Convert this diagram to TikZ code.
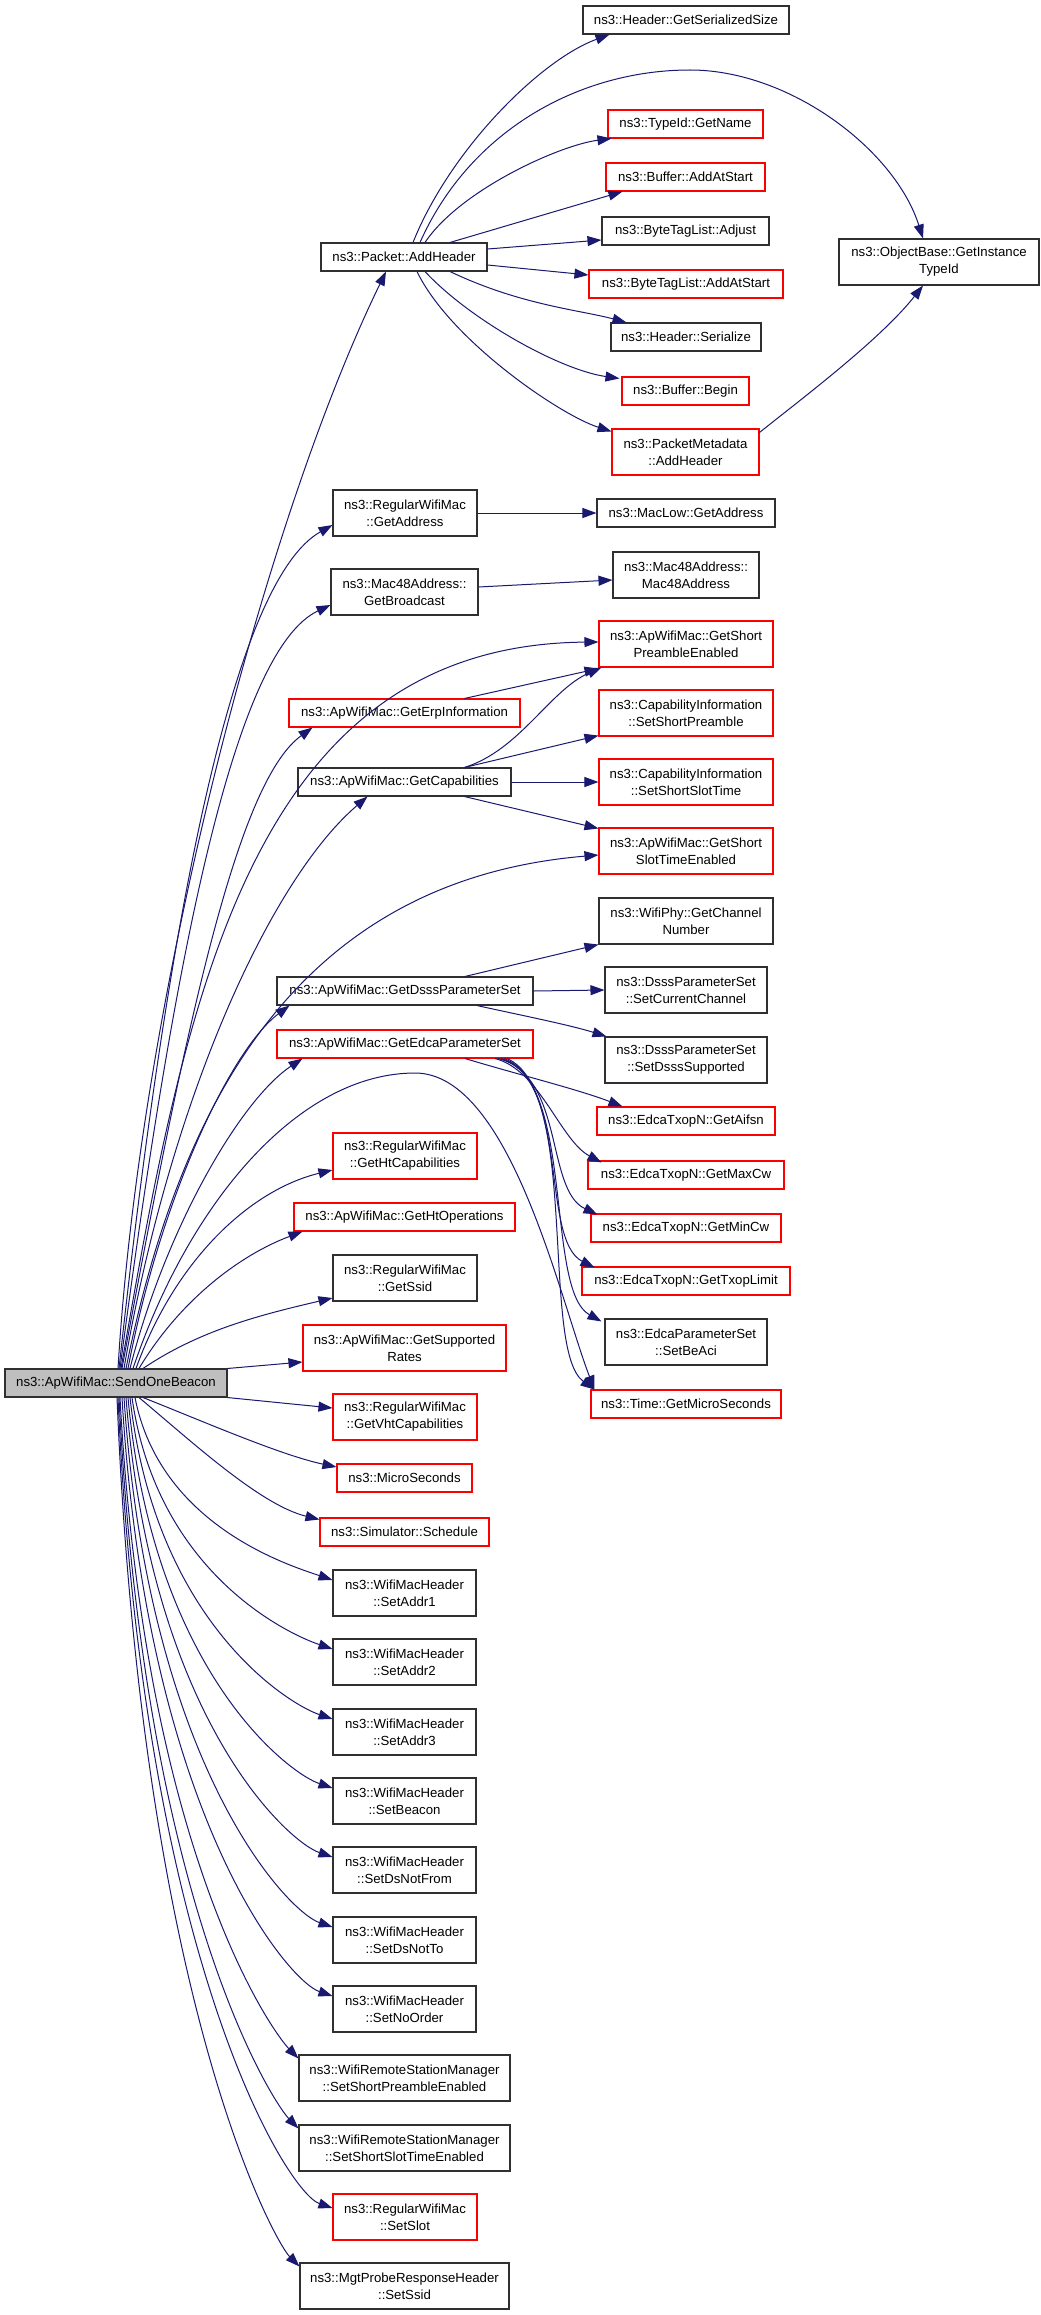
\documentclass[tikz,border=0pt]{standalone}
\usepackage{fontspec}
\setmainfont{Liberation Sans}
\usetikzlibrary{arrows.meta,calc}
\definecolor{mblue}{HTML}{191970}
\definecolor{nred}{HTML}{FF0000}
\definecolor{nblk}{HTML}{303030}
\definecolor{sgray}{HTML}{BFBFBF}
\newcommand\nfont{\fontsize{9.9pt}{12.75pt}\selectfont}
\tikzset{
  nd/.style={draw=nblk, line width=0.8pt, fill=white, inner sep=0pt, align=center, font=\nfont},
  rd/.style={nd, draw=nred},
  gy/.style={nd, fill=sgray},
  h1/.style={minimum height=28*0.75pt},
  h2/.style={minimum height=46*0.75pt},
  bw/.style={minimum width=#1*0.75pt},
  edge/.style={draw=mblue, line width=0.75pt, -{Triangle[length=10.5pt,width=7.5pt]}},
}
\begin{document}
\begin{tikzpicture}[x=0.75pt,y=-0.75pt]
\useasboundingbox (0,0) rectangle (1040,2315);
\fill[white] (0,0) rectangle (1040,2315);
% nodes
\node[nd,bw=206,h1] (gss) at (686,20) {ns3::Header::GetSerializedSize};
\node[nd,bw=200,h2] (oi) at (939,262) {ns3::ObjectBase::GetInstance\\TypeId};
\node[rd,bw=155,h1] (tn) at (685.5,124) {ns3::TypeId::GetName};
\node[rd,bw=159,h1] (baas) at (685.5,177) {ns3::Buffer::AddAtStart};
\node[nd,bw=167,h1] (btla) at (685.5,231) {ns3::ByteTagList::Adjust};
\node[nd,bw=166,h1] (ah) at (404,257) {ns3::Packet::AddHeader};
\node[rd,bw=194,h1] (btlas) at (686,284) {ns3::ByteTagList::AddAtStart};
\node[nd,bw=150,h1] (hs) at (686,337) {ns3::Header::Serialize};
\node[rd,bw=127,h1] (bb) at (685.5,391) {ns3::Buffer::Begin};
\node[rd,bw=147,h2] (pm) at (685.5,452) {ns3::PacketMetadata\\::AddHeader};
\node[nd,bw=144,h2] (ga) at (405,513) {ns3::RegularWifiMac\\::GetAddress};
\node[nd,bw=178,h1] (mlga) at (686,513) {ns3::MacLow::GetAddress};
\node[nd,bw=146,h2] (mac) at (686,575) {ns3::Mac48Address::\\Mac48Address};
\node[nd,bw=147,h2] (gb) at (404.5,592) {ns3::Mac48Address::\\GetBroadcast};
\node[rd,bw=174,h2] (gspe) at (686,644) {ns3::ApWifiMac::GetShort\\PreambleEnabled};
\node[rd,bw=231,h1] (erp) at (404.5,713) {ns3::ApWifiMac::GetErpInformation};
\node[rd,bw=174,h2] (ssp) at (686,713) {ns3::CapabilityInformation\\::SetShortPreamble};
\node[nd,bw=213,h1] (cap) at (404.5,782) {ns3::ApWifiMac::GetCapabilities};
\node[rd,bw=174,h2] (ssst) at (686,782) {ns3::CapabilityInformation\\::SetShortSlotTime};
\node[rd,bw=174,h2] (gsst) at (686,851) {ns3::ApWifiMac::GetShort\\SlotTimeEnabled};
\node[nd,bw=174,h2] (gcn) at (686,921) {ns3::WifiPhy::GetChannel\\Number};
\node[nd,bw=256,h1] (dsss) at (405,991) {ns3::ApWifiMac::GetDsssParameterSet};
\node[nd,bw=162,h2] (scc) at (686,990) {ns3::DsssParameterSet\\::SetCurrentChannel};
\node[rd,bw=256,h1] (edca) at (405,1044) {ns3::ApWifiMac::GetEdcaParameterSet};
\node[nd,bw=162,h2] (sds) at (686,1060) {ns3::DsssParameterSet\\::SetDsssSupported};
\node[rd,bw=178,h1] (aifsn) at (686,1121) {ns3::EdcaTxopN::GetAifsn};
\node[rd,bw=144,h2] (htc) at (405,1156) {ns3::RegularWifiMac\\::GetHtCapabilities};
\node[rd,bw=196,h1] (maxcw) at (686,1175) {ns3::EdcaTxopN::GetMaxCw};
\node[rd,bw=221,h1] (hto) at (404.5,1217) {ns3::ApWifiMac::GetHtOperations};
\node[rd,bw=190,h1] (mincw) at (686,1228) {ns3::EdcaTxopN::GetMinCw};
\node[nd,bw=144,h2] (ssid) at (405,1278) {ns3::RegularWifiMac\\::GetSsid};
\node[rd,bw=208,h1] (txop) at (686,1281) {ns3::EdcaTxopN::GetTxopLimit};
\node[nd,bw=162,h2] (beaci) at (686,1342) {ns3::EdcaParameterSet\\::SetBeAci};
\node[rd,bw=203,h2] (rates) at (404.5,1348) {ns3::ApWifiMac::GetSupported\\Rates};
\node[gy,bw=222,h1] (s) at (116,1383) {ns3::ApWifiMac::SendOneBeacon};
\node[rd,bw=190,h1] (tms) at (686,1404) {ns3::Time::GetMicroSeconds};
\node[rd,bw=144,h2] (vht) at (405,1417) {ns3::RegularWifiMac\\::GetVhtCapabilities};
\node[rd,bw=135,h1] (ms) at (404.5,1478) {ns3::MicroSeconds};
\node[rd,bw=169,h1] (sch) at (404.5,1532) {ns3::Simulator::Schedule};
\node[nd,bw=143,h2] (aa) at (404.5,1593) {ns3::WifiMacHeader\\::SetAddr1};
\node[nd,bw=143,h2] (ab) at (404.5,1662) {ns3::WifiMacHeader\\::SetAddr2};
\node[nd,bw=143,h2] (ac) at (404.5,1732) {ns3::WifiMacHeader\\::SetAddr3};
\node[nd,bw=143,h2] (bcn) at (404.5,1801) {ns3::WifiMacHeader\\::SetBeacon};
\node[nd,bw=143,h2] (dnf) at (404.5,1870) {ns3::WifiMacHeader\\::SetDsNotFrom};
\node[nd,bw=143,h2] (dnt) at (404.5,1940) {ns3::WifiMacHeader\\::SetDsNotTo};
\node[nd,bw=143,h2] (nor) at (404.5,2009) {ns3::WifiMacHeader\\::SetNoOrder};
\node[nd,bw=211,h2] (wspe) at (404.5,2078) {ns3::WifiRemoteStationManager\\::SetShortPreambleEnabled};
\node[nd,bw=211,h2] (wsst) at (404.5,2148) {ns3::WifiRemoteStationManager\\::SetShortSlotTimeEnabled};
\node[rd,bw=144,h2] (slot) at (405,2217) {ns3::RegularWifiMac\\::SetSlot};
\node[nd,bw=209,h2] (probe) at (404.5,2286) {ns3::MgtProbeResponseHeader\\::SetSsid};
% edges from Packet::AddHeader
\draw[edge] ($(ah.north)+(9,0)$) .. controls (450,150) and (540,60) .. ($(gss.south west)+(27,0)$);
\draw[edge] ($(ah.north)+(16,0)$) .. controls (470,130) and (580,70) .. (690,70) coordinate (oipk) .. controls (790,70) and (895,150) .. ($(oi.north)+(-16,0)$);
\draw[edge] ($(ah.north)+(21,0)$) .. controls (460,190) and (560,145) .. ($(tn.south west)+(4,0)$);
\draw[edge] ($(ah.north)+(46,0)$) -- ($(baas.south west)+(17,0)$);
\draw[edge] ($(ah.east)+(0,-8)$) -- ($(btla.west)+(0,9)$);
\draw[edge] ($(ah.east)+(0,8)$) -- ($(btlas.west)+(0,-9)$);
\draw[edge] ($(ah.south)+(46,0)$) .. controls (520,305) and (580,310) .. ($(hs.north west)+(16,0)$);
\draw[edge] ($(ah.south)+(21,0)$) .. controls (470,320) and (560,370) .. ($(bb.north west)+(-2,2)$);
\draw[edge] ($(ah.south)+(13,0)$) .. controls (450,340) and (560,415) .. ($(pm.north west)+(0,3)$);
\draw[edge] ($(pm.north east)+(0,4)$) .. controls (800,400) and (880,340) .. ($(oi.south)+(-16,0)$);
% second level
\draw[edge] (ga.east) -- (mlga.west);
\draw[edge] ($(gb.east)+(0,-5)$) -- ($(mac.west)+(0,5)$);
\draw[edge] ($(erp.north)+(60,0)$) -- ($(gspe.south west)+(0,1)$);
\draw[edge] ($(cap.north)+(60,0)$) .. controls (520,750) and (550,690) .. ($(gspe.south west)+(3,0)$);
\draw[edge] ($(cap.north)+(60,0)$) -- ($(ssp.south west)+(0,-1)$);
\draw[edge] (cap.east) -- (ssst.west);
\draw[edge] ($(cap.south)+(60,0)$) -- ($(gsst.north west)+(0,1)$);
\draw[edge] ($(dsss.north)+(60,0)$) -- (gcn.south west);
\draw[edge] (dsss.east) -- (scc.west);
\draw[edge] ($(dsss.south)+(72,0)$) .. controls (520,1015) and (570,1025) .. ($(sds.north west)+(2,0)$);
\draw[edge] ($(edca.south)+(60,0)$) .. controls (520,1075) and (580,1090) .. ($(aifsn.north west)+(26,0)$);
\draw[edge] ($(edca.south)+(90,0)$) .. controls (540,1070) and (560,1140) .. ($(maxcw.north west)+(14,2)$);
\draw[edge] ($(edca.south)+(93,0)$) .. controls (565,1075) and (545,1190) .. ($(mincw.north west)+(7,1)$);
\draw[edge] ($(edca.south)+(96,0)$) .. controls (570,1080) and (540,1240) .. ($(txop.north west)+(13,1)$);
\draw[edge] ($(edca.south)+(99,0)$) .. controls (575,1085) and (545,1290) .. ($(beaci.north west)+(-3,3)$);
\draw[edge] ($(edca.south)+(102,0)$) .. controls (580,1090) and (540,1350) .. ($(tms.north west)+(4,0)$);
% edges from SendOneBeacon, upward
\draw[edge] ($(s.north)+(2,0)$) .. controls (140,1000) and (265,520) .. ($(ah.south)+(-18,0)$);
\draw[edge] ($(s.north)+(3,0)$) .. controls (170,900) and (235,580) .. ($(ga.west)+(0,12)$);
\draw[edge] ($(s.north)+(4,0)$) .. controls (175,950) and (235,650) .. ($(gb.west)+(0,13)$);
\draw[edge] ($(s.north)+(5,0)$) .. controls (185,1000) and (250,645) .. ($(gspe.west)+(0,-2)$);
\draw[edge] ($(s.north)+(6,0)$) .. controls (190,1000) and (240,780) .. ($(erp.south west)+(24,0)$);
\draw[edge] ($(s.north)+(8,0)$) .. controls (170,1100) and (270,880) .. ($(cap.south)+(-37,0)$);
\draw[edge] ($(s.north)+(10,0)$) .. controls (180,1100) and (300,880) .. ($(gsst.west)+(0,4)$);
\draw[edge] ($(s.north)+(12,0)$) .. controls (160,1200) and (230,1050) .. ($(dsss.south west)+(13,0)$);
\draw[edge] ($(s.north)+(14,0)$) .. controls (165,1230) and (240,1100) .. ($(edca.south west)+(26,0)$);
\draw[edge] ($(s.north)+(17,0)$) .. controls (190,1200) and (300,1073) .. (415,1073) coordinate (tmspk) .. controls (510,1073) and (560,1300) .. ($(tms.north west)+(4,0)$);
\draw[edge] ($(s.north)+(20,0)$) .. controls (175,1260) and (250,1190) .. ($(htc.west)+(0,14)$);
\draw[edge] ($(s.north)+(23,0)$) .. controls (180,1300) and (240,1255) .. ($(hto.south west)+(9,0)$);
\draw[edge] ($(s.north)+(27,0)$) .. controls (200,1330) and (260,1315) .. ($(ssid.west)+(0,20)$);
\draw[edge] (s.north east) -- ($(rates.west)+(0,14)$);
% edges from SendOneBeacon, downward
\draw[edge] (s.south east) -- ($(vht.west)+(0,-9)$);
\draw[edge] ($(s.south)+(27,0)$) .. controls (200,1420) and (280,1455) .. ($(ms.west)+(0,-11)$);
\draw[edge] ($(s.south)+(23,0)$) .. controls (190,1440) and (260,1505) .. ($(sch.north west)+(0,2)$);
\draw[edge] ($(s.south)+(19,0)$) .. controls (160,1525) and (288,1565) .. ($(aa.west)+(0,-13)$);
\draw[edge] ($(s.south)+(16,0)$) .. controls (157,1573) and (288,1634) .. ($(ab.west)+(0,-13)$);
\draw[edge] ($(s.south)+(14,0)$) .. controls (155,1622) and (288,1704) .. ($(ac.west)+(0,-13)$);
\draw[edge] ($(s.south)+(12,0)$) .. controls (153,1671) and (288,1773) .. ($(bcn.west)+(0,-13)$);
\draw[edge] ($(s.south)+(10,0)$) .. controls (151,1719) and (288,1842) .. ($(dnf.west)+(0,-13)$);
\draw[edge] ($(s.south)+(8,0)$) .. controls (149,1768) and (288,1912) .. ($(dnt.west)+(0,-13)$);
\draw[edge] ($(s.south)+(6,0)$) .. controls (147,1816) and (288,1981) .. ($(nor.west)+(0,-13)$);
\draw[edge] ($(s.south)+(4,0)$) .. controls (145,1860) and (274.5,2034) .. ($(wspe.north west)+(0,4)$);
\draw[edge] ($(s.south)+(3,0)$) .. controls (144,1909) and (274.5,2104) .. ($(wsst.north west)+(0,4)$);
\draw[edge] ($(s.south)+(2,0)$) .. controls (143,1965) and (288,2193) .. ($(slot.west)+(0,-9)$);
\draw[edge] ($(s.south)+(1,0)$) .. controls (142,2006) and (275,2242) .. ($(probe.north west)+(0,4)$);
\end{tikzpicture}
\end{document}
